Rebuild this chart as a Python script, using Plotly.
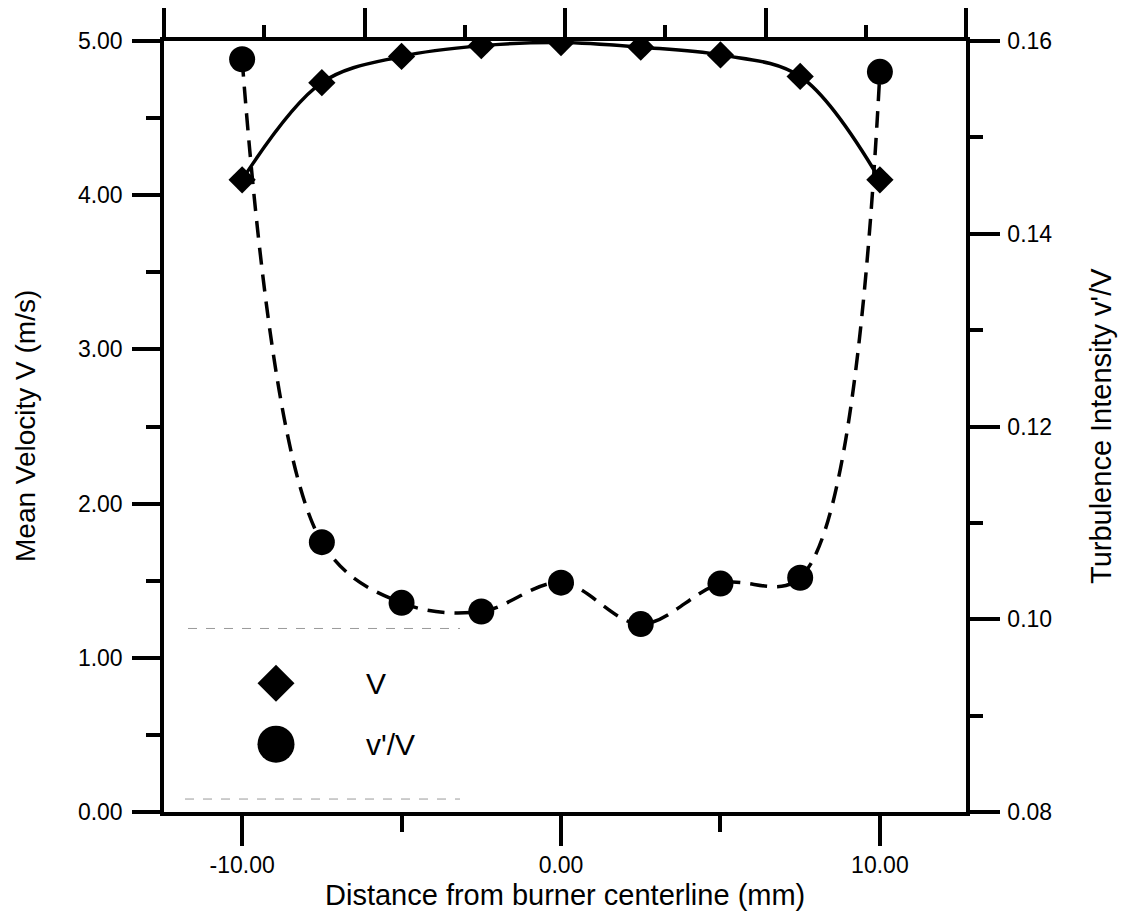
import plotly.graph_objects as go

# ---- data ----
x_pos = [-10.0, -7.5, -5.0, -2.5, 0.0, 2.5, 5.0, 7.5, 10.0]
mean_velocity = [4.10, 4.73, 4.90, 4.97, 4.99, 4.96, 4.91, 4.77, 4.10]
turb_intensity = [0.1581, 0.1080, 0.1017, 0.1008, 0.1038, 0.0995, 0.1037, 0.1043, 0.1568]

x_tickvals = [-10, 0, 10]
x_ticktext = ["-10.00", "0.00", "10.00"]
y_tickvals = [0, 1, 2, 3, 4, 5]
y2_tickvals = [0.08, 0.10, 0.12, 0.14, 0.16]

FONT = "Liberation Sans, Arial, sans-serif"
TICK_SIZE = 23
TITLE_SIZE = 28

# plot-area pixel box
L, R, T, B = 164, 966, 39, 812
W, H = 1128, 915
PW, PH = R - L, B - T

def px(xp):
    return (xp - L) / PW

def py(yp):
    return (B - yp) / PH

fig = go.Figure()

fig.add_trace(go.Scatter(
    x=x_pos, y=mean_velocity, mode="lines+markers", name="V",
    line=dict(color="black", width=3.5, shape="spline", smoothing=1.0),
    marker=dict(symbol="diamond", size=21, color="black"),
    showlegend=False, xaxis="x", yaxis="y"))

fig.add_trace(go.Scatter(
    x=x_pos, y=turb_intensity, mode="lines+markers", name="v'/V",
    line=dict(color="black", width=3.5, shape="spline", smoothing=1.0, dash="17px,10px"),
    marker=dict(symbol="circle", size=26, color="black"),
    showlegend=False, xaxis="x", yaxis="y2"))

# dummy trace to activate top axis
fig.add_trace(go.Scatter(x=[None], y=[None], xaxis="x2", yaxis="y", showlegend=False))

axis_common = dict(showline=True, linecolor="black", linewidth=3.5, ticks="outside",
                   tickcolor="black", tickwidth=3.5, showgrid=False, zeroline=False,
                   tickfont=dict(family=FONT, size=TICK_SIZE, color="black"))

fig.update_layout(
    width=W, height=H,
    margin=dict(l=L, r=W - R, t=T, b=H - B),
    paper_bgcolor="white", plot_bgcolor="white",
    xaxis=dict(range=[-12.45, 12.7], tickvals=x_tickvals, ticktext=x_ticktext, ticklen=30,
               minor=dict(tickvals=[-5, 5], ticklen=16, tickwidth=3.5, tickcolor="black", ticks="outside"),
               **axis_common),
    xaxis2=dict(overlaying="x", side="top", range=[0, 8], tickvals=[0, 2, 4, 6, 8],
                showticklabels=False, ticklen=29,
                minor=dict(tickvals=[1, 3, 5, 7], ticklen=12, tickwidth=3.5, tickcolor="black", ticks="outside"),
                **axis_common),
    yaxis=dict(range=[0, 5], tickvals=y_tickvals, tickformat=".2f", ticklen=28,
               ticklabelstandoff=5,
               minor=dict(dtick=0.5, ticklen=14, tickwidth=3.5, tickcolor="black", ticks="outside"),
               **axis_common),
    yaxis2=dict(overlaying="y", side="right", range=[0.08, 0.16], tickvals=y2_tickvals,
                tickformat=".2f", ticklen=30, ticklabelstandoff=3,
                minor=dict(dtick=0.01, ticklen=13, tickwidth=3.5, tickcolor="black", ticks="outside"),
                **axis_common),
)

# axis titles as annotations (precise placement)
fig.add_annotation(x=px(565), y=py(895), xref="paper", yref="paper", showarrow=False,
                   text="Distance from burner centerline (mm)", xanchor="center", yanchor="middle",
                   font=dict(family=FONT, size=29, color="black"))
fig.add_annotation(x=px(25), y=py(425), xref="paper", yref="paper", showarrow=False,
                   text="Mean Velocity V (m/s)", textangle=-90, xanchor="center", yanchor="middle",
                   font=dict(family=FONT, size=TITLE_SIZE, color="black"))
fig.add_annotation(x=px(1101), y=py(425), xref="paper", yref="paper", showarrow=False,
                   text="Turbulence Intensity v'/V", textangle=-90, xanchor="center", yanchor="middle",
                   font=dict(family=FONT, size=29, color="black"))

# legend drawn manually (large symbols)
lx = px(276)
ly_d = py(683)
ly_c = py(744)
fig.add_shape(type="path", xref="paper", yref="paper", xsizemode="pixel", ysizemode="pixel",
              xanchor=lx, yanchor=ly_d, path="M -18.5 0 L 0 18.5 L 18.5 0 L 0 -18.5 Z",
              fillcolor="black", line=dict(width=0))
fig.add_shape(type="circle", xref="paper", yref="paper", xsizemode="pixel", ysizemode="pixel",
              xanchor=lx, yanchor=ly_c, x0=-18.5, x1=18.5, y0=-18.5, y1=18.5,
              fillcolor="black", line=dict(width=0))
tx = px(364)
fig.add_annotation(x=tx, y=ly_d, xref="paper", yref="paper", text="V", showarrow=False,
                   xanchor="left", yanchor="middle", font=dict(family=FONT, size=30, color="black"))
fig.add_annotation(x=tx, y=ly_c, xref="paper", yref="paper", text="v'/V", showarrow=False,
                   xanchor="left", yanchor="middle", font=dict(family=FONT, size=30, color="black"))

# faint remnant lines of the legend frame
for (x0, x1, yy) in [(188, 460, 628), (185, 460, 799)]:
    fig.add_shape(type="line", xref="paper", yref="paper",
                  x0=px(x0), x1=px(x1), y0=py(yy), y1=py(yy),
                  line=dict(color="#9a9a9a", width=1, dash="dash"))

fig.write_html("out.html")
